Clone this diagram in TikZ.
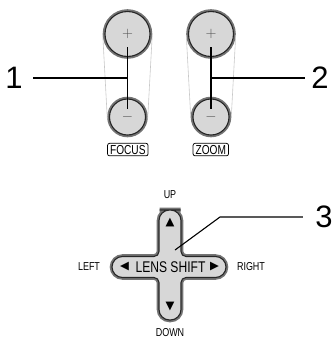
\documentclass[tikz,border=0pt]{standalone}
\usepackage[no-math]{fontspec}
\setmainfont{Liberation Sans}
\newfontfamily\narrowfont[FakeStretch=0.78]{Liberation Sans}
\newfontfamily\symbolfont{DejaVu Sans}
\definecolor{btnfill}{HTML}{D7D7D7}
\definecolor{btnring}{HTML}{747474}
\definecolor{btnedge}{HTML}{262626}
\definecolor{beltgray}{HTML}{C8C8C8}
\definecolor{signgray}{HTML}{505050}
\tikzset{
  button/.style={circle, inner sep=0pt, outer sep=2.25pt, fill=btnfill, draw=btnedge, line width=1.1pt,
    preaction={draw=btnring, line width=4.6pt}, text=signgray, font=\fontsize{15}{15}\selectfont},
  bigbutton/.style={button, minimum size=45pt},
  smallbutton/.style={button, minimum size=36pt},
  crossbutton/.style={fill=btnfill, draw=btnedge, line width=1.1pt, preaction={draw=btnring, line width=4.6pt}},
  belt/.style={draw=beltgray, line width=0.6pt},
  leader/.style={draw=black, line width=1.1pt},
  callout/.style={inner sep=0pt, font=\fontsize{31}{31}\selectfont},
  tag/.style={draw, rounded corners=2pt, line width=0.75pt, minimum height=12.5pt, inner xsep=2.5pt, inner ysep=0pt,
    font=\narrowfont\fontsize{13}{13}\selectfont},
  direction/.style={inner sep=0pt, font=\narrowfont\fontsize{11.5}{11.5}\selectfont},
  arrowmark/.style={inner sep=0pt, font=\symbolfont\fontsize{11.5}{11.5}\selectfont},
}
\begin{document}
\begin{tikzpicture}[x=1pt, y=-1pt]
  \useasboundingbox (0,0) rectangle (334,341);

  % focus and zoom buttons
  \node[bigbutton] (fplus) at (127.5,34) {$+$};
  \node[smallbutton] (fminus) at (127.5,117) {$-$};
  \node[bigbutton] (zplus) at (211,34) {$+$};
  \node[smallbutton] (zminus) at (211,117) {$-$};
  \draw[belt] (fplus.183) -- (fminus.183);
  \draw[belt] (fplus.357) -- (fminus.357);
  \draw[belt] (zplus.183) -- (zminus.183);
  \draw[belt] (zplus.357) -- (zminus.357);
  \node[tag] (focus) at (127.8,149.6) {FOCUS};
  \node[tag] (zoom) at (210.8,149.6) {ZOOM};

  % callouts 1 and 2
  \coordinate (ftop) at (127.5,47);
  \coordinate (fbot) at (127.5,109);
  \coordinate (fmid) at (127.5,78);
  \coordinate (ztop) at (211,47);
  \coordinate (zbot) at (211,109);
  \coordinate (zmid) at (211,78);
  \node[callout] (n1) at (14,78) {1};
  \node[callout] (n2) at (320,78) {2};
  \draw[leader] (ftop) -- (fbot);
  \draw[leader, shorten <=10.4pt] (n1.east) -- (fmid);
  \draw[leader] (ztop) -- (zbot);
  \draw[leader, shorten >=6.4pt] (zmid) -- (n2.west);

  % lens shift cross
  \draw[crossbutton] (170,210)
    [rounded corners=10.5pt] -- (181,210) -- (181,235)
    [rounded corners=5pt] -- (181,256.5) -- (200,256.5)
    [rounded corners=10.5pt] -- (226,256.5) -- (226,277.5) -- (200,277.5)
    [rounded corners=5pt] -- (181,277.5) -- (181,295)
    [rounded corners=10.5pt] -- (181,320) -- (159,320) -- (159,295)
    [rounded corners=5pt] -- (159,277.5) -- (140,277.5)
    [rounded corners=10.5pt] -- (112,277.5) -- (112,256.5) -- (140,256.5)
    [rounded corners=5pt] -- (159,256.5) -- (159,235)
    [rounded corners=10.5pt] -- (159,210) -- cycle;
  \node[inner sep=0pt, font=\narrowfont\fontsize{15.5}{15.5}\selectfont] (lens) at (170.5,267) {LENS SHIFT};
  \node[arrowmark] (tleft) at (124.5,267) {◀};
  \node[arrowmark] (tright) at (214.5,267) {▶};
  \node[arrowmark] (tup) at (170,223) {▲};
  \node[arrowmark] (tdown) at (170,307) {▼};
  \node[direction] (up) at (170,195) {UP};
  \node[direction] (down) at (170,333) {DOWN};
  \node[direction] (left) at (89,267) {LEFT};
  \node[direction] (right) at (251,267) {RIGHT};

  % callout 3
  \coordinate (lspoint) at (175,250);
  \coordinate (lsbend) at (220,217);
  \node[callout] (n3) at (324,217) {3};
  \draw[leader, shorten >=12.4pt] (lspoint) -- (lsbend) -- (n3.west);
\end{tikzpicture}
\end{document}
